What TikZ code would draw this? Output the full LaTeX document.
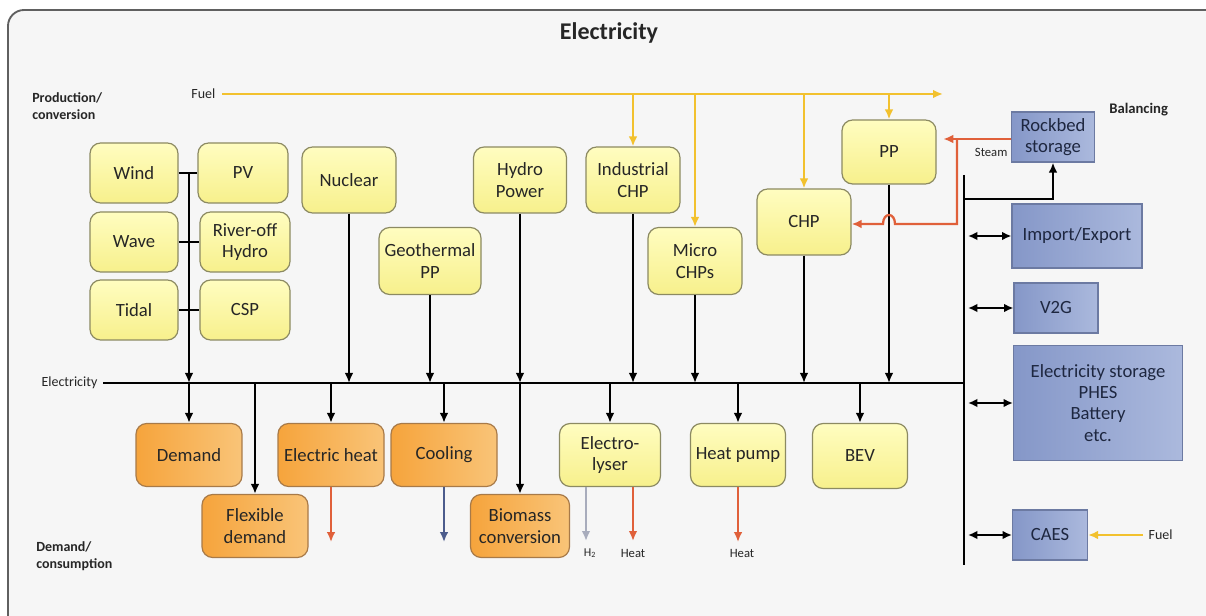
\documentclass[tikz,border=0pt]{standalone}
\usepackage{fontspec}
\setmainfont{Carlito}
\usetikzlibrary{arrows.meta}
\definecolor{bgc}{HTML}{F6F6F6}
\definecolor{framec}{HTML}{606060}
\definecolor{ytop}{HTML}{FFFDC0}
\definecolor{ybot}{HTML}{F7F08C}
\definecolor{ybord}{HTML}{8C8A62}
\definecolor{otop}{HTML}{F6A43C}
\definecolor{obot}{HTML}{F9C478}
\definecolor{obord}{HTML}{A87A48}
\definecolor{bl}{HTML}{8597C8}
\definecolor{br}{HTML}{ABB9DD}
\definecolor{bbord}{HTML}{6C7AA2}
\definecolor{txt}{HTML}{262626}
\definecolor{btxt}{HTML}{1E2740}
\definecolor{fuelc}{HTML}{F2C12E}
\definecolor{heatc}{HTML}{E0603A}
\definecolor{coolc}{HTML}{4C5C8C}
\definecolor{h2c}{HTML}{A8ACBC}
\tikzset{
  sz/.style 2 args={minimum width=#1*0.75pt, minimum height=#2*0.75pt},
  basebox/.style={line width=0.9pt, inner sep=0pt, align=center,
    font=\fontsize{14}{16}\selectfont},
  ybox/.style={basebox, draw=ybord, rounded corners=8pt, top color=ytop, bottom color=ybot, text=txt},
  obox/.style={basebox, draw=obord, rounded corners=8pt, left color=otop, right color=obot, text=txt},
  bbox/.style={basebox, draw=bbord, left color=bl, right color=br, text=btxt},
  small/.style={font=\fontsize{10.5}{12.5}\selectfont, text=txt, inner sep=1pt},
  smallb/.style={font=\fontsize{10.5}{12.8}\selectfont\bfseries, text=txt, inner sep=0pt, align=left},
  conn/.style={line width=1.7pt, black},
  arr/.style={conn, -{Latex[length=7.5pt,width=6.5pt]}},
  darr/.style={conn, {Latex[length=7pt,width=6.5pt]}-{Latex[length=7pt,width=6.5pt]}},
  fuelarr/.style={line width=1.8pt, fuelc, -{Latex[length=7.5pt,width=6.5pt]}},
  heatarr/.style={line width=1.7pt, heatc, -{Latex[length=7.5pt,width=6.5pt]}},
  coolarr/.style={line width=1.7pt, coolc, -{Latex[length=7.5pt,width=6.5pt]}},
  h2arr/.style={line width=1.7pt, h2c, -{Latex[length=7.5pt,width=6.5pt]}},
}
\begin{document}
\begin{tikzpicture}[x=0.75pt,y=-0.75pt]
\useasboundingbox (0,0) rectangle (1206,616);
\clip (0,0) rectangle (1206,616);
\fill[white] (0,0) rectangle (1206,616);
\draw[framec, line width=1.4pt, fill=bgc, rounded corners=12pt] (8,10) rectangle (1225,640);

% labels
\node[font=\fontsize{18}{21}\selectfont\bfseries, text=txt] (title) at (609,33) {Electricity};
\node[smallb, anchor=west] (prod) at (32,106) {Production/\\conversion};
\node[smallb, anchor=west] (dem) at (36,556) {Demand/\\consumption};
\node[smallb, anchor=west, font=\fontsize{11}{13}\selectfont\bfseries] (bal) at (1109,110) {Balancing};
\node[small, anchor=east] (fuellbl) at (217,94) {Fuel};
\node[small, anchor=east] (ellbl) at (99,383) {Electricity};
\node[small, anchor=east, font=\fontsize{9.5}{11}\selectfont] (steam) at (1009,152) {Steam};
\node[small, anchor=west] (fuel2) at (1147,535) {Fuel};

% production boxes
\node[ybox, sz={88}{60}] (wind) at (134,173) {Wind};
\node[ybox, sz={90}{60}] (pv) at (243,173) {PV};
\node[ybox, sz={88}{60}] (wave) at (134,242) {Wave};
\node[ybox, sz={90}{60}] (river) at (245,242) {River-off\\Hydro};
\node[ybox, sz={88}{60}] (tidal) at (134,310) {Tidal};
\node[ybox, sz={90}{60}] (csp) at (245,310) {CSP};
\node[ybox, sz={94}{66}] (nuclear) at (349,180) {Nuclear};
\node[ybox, sz={102}{67}] (geo) at (430,261) {Geothermal\\PP};
\node[ybox, sz={93}{66}] (hydro) at (520,180) {Hydro\\Power};
\node[ybox, sz={94}{66}] (indchp) at (633,180) {Industrial\\CHP};
\node[ybox, sz={94}{67}] (micro) at (695,261) {Micro\\CHPs};
\node[ybox, sz={94}{66}] (chp) at (804,222) {CHP};
\node[ybox, sz={94}{64}] (pp) at (889,152) {PP};

% demand boxes
\node[obox, sz={106}{63}] (demand) at (189,455) {Demand};
\node[obox, sz={106}{63}] (flex) at (255,526) {Flexible\\demand};
\node[obox, sz={106}{63}] (eheat) at (331,455) {Electric heat};
\node[obox, sz={106}{63}] (cool) at (444,455) {Cooling};
\node[obox, sz={99}{63}] (bio) at (520,526) {Biomass\\conversion};
\node[ybox, sz={101}{63}] (ely) at (610,455) {Electro-\\lyser};
\node[ybox, sz={95}{63}] (hp) at (738,455) {Heat pump};
\node[ybox, sz={95}{65}] (bev) at (860,456) {BEV};

% balancing boxes
\node[bbox, sz={83}{50}] (rock) at (1053,137) {Rockbed\\storage};
\node[bbox, sz={130}{64}] (imp) at (1077,236) {Import/Export};
\node[bbox, sz={84}{50}] (v2g) at (1056,308) {V2G};
\node[bbox, sz={169}{115}, font=\fontsize{14}{15.8}\selectfont] (stor) at (1098,403) {Electricity storage\\PHES\\Battery\\etc.};
\node[bbox, sz={75}{50}] (caes) at (1050,535) {CAES};

% coordinates
\coordinate (busL) at (103,383);
\coordinate (busR) at (964,383);
\coordinate (vbT) at (964,175);
\coordinate (vbB) at (964,565);
\coordinate (fuelS) at (222,94);
\coordinate (fuelE) at (943,94);
\coordinate (rv) at (189,173);
\coordinate (rst) at (964,199);
\coordinate (st1) at (957,139);
\coordinate (st2) at (957,224);
\coordinate (h2end) at (586,541);
\coordinate (heatend) at (633,541);
\coordinate (caesfuel) at (1143,535);

% buses
\draw[conn] (busL) -- (busR);
\draw[conn] (vbT) -- (vbB);

% fuel
\draw[fuelarr] (fuelS) -- (fuelE);
\draw[fuelarr] (indchp.north |- fuelS) -- (indchp.north);
\draw[fuelarr] (micro.north |- fuelS) -- (micro.north);
\draw[fuelarr] (chp.north |- fuelS) -- (chp.north);
\draw[fuelarr] (pp.north |- fuelS) -- (pp.north);
\draw[fuelarr] (caesfuel) -- (caes.east);

% renewables cluster
\draw[conn] (wind.east) -- (pv.west);
\draw[conn] (wave.east) -- (river.west);
\draw[conn] (tidal.east) -- (csp.west);
\draw[arr] (rv) -- (rv |- busL);

% producers to bus
\draw[arr] (nuclear.south) -- (nuclear.south |- busL);
\draw[arr] (geo.south) -- (geo.south |- busL);
\draw[arr] (hydro.south) -- (hydro.south |- busL);
\draw[arr] (indchp.south) -- (indchp.south |- busL);
\draw[arr] (micro.south) -- (micro.south |- busL);
\draw[arr] (chp.south) -- (chp.south |- busL);
\draw[arr] (pp.south) -- (pp.south |- busL);

% bus to demand
\draw[arr] (demand.north |- busL) -- (demand.north);
\draw[arr] (flex.north |- busL) -- (flex.north);
\draw[arr] (eheat.north |- busL) -- (eheat.north);
\draw[arr] (cool.north |- busL) -- (cool.north);
\draw[arr] (bio.north |- busL) -- (bio.north);
\draw[arr] (ely.north |- busL) -- (ely.north);
\draw[arr] (hp.north |- busL) -- (hp.north);
\draw[arr] (bev.north |- busL) -- (bev.north);

% outputs
\draw[heatarr] (eheat.south) -- ++(0,55);
\draw[coolarr] (cool.south) -- ++(0,55);
\draw[h2arr] (h2end |- ely.south) -- (h2end);
\draw[heatarr] (heatend |- ely.south) -- (heatend);
\draw[heatarr] (hp.south) -- ++(0,55);
\node[small, font=\fontsize{9}{11}\selectfont] (h2lbl) at (590,553) {H\textsubscript{2}};
\node[small, font=\fontsize{9.5}{11}\selectfont] (heatlbl1) at (633,553) {Heat};
\node[small, font=\fontsize{9.5}{11}\selectfont] (heatlbl2) at (742,553) {Heat};

% balancing connectors
\draw[arr] (rst) -| (rock.south);
\draw[darr] ([xshift=3pt]imp.west -| vbT) -- (imp.west);
\draw[darr] ([xshift=3pt]v2g.west -| vbT) -- (v2g.west);
\draw[darr] ([xshift=3pt]stor.west -| vbT) -- (stor.west);
\draw[darr] ([xshift=3pt]caes.west -| vbT) -- (caes.west);

% steam
\draw[heatarr, shorten >=5pt] (rock.west |- st1) -- (pp.east |- st1);
\draw[heatarr] (st1) -- (st2) -- (895,224) .. controls (895,212) and (883,212) .. (883,224) -- (chp.east |- st2);
\end{tikzpicture}
\end{document}
